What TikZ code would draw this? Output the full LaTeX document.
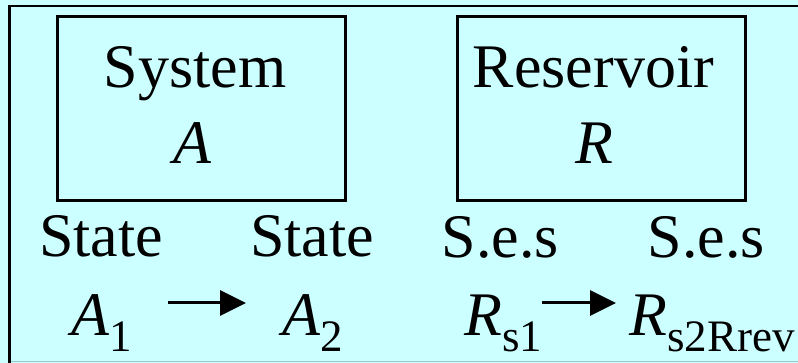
\documentclass[tikz,border=0pt]{standalone}
\usepackage{fontspec}
\setmainfont{Liberation Serif}
\usetikzlibrary{arrows.meta}
\definecolor{bgcyan}{HTML}{CCFFFF}
\definecolor{edgegray}{HTML}{9CC8C8}
\newcommand{\bigf}{\fontsize{62}{70}\selectfont}
\newcommand{\subf}{\fontsize{45}{50}\selectfont}
\newcommand{\lowsub}[1]{\raisebox{-17pt}{\subf #1}}
\begin{document}
\begin{tikzpicture}[x=1pt,y=-1pt,
  txt/.style={anchor=base,inner sep=0pt,font=\bigf},
  lbl/.style={anchor=base west,inner sep=0pt,font=\bigf},
  boxframe/.style={draw=black,line width=3pt},
  arr/.style={line width=3pt,-{Triangle[length=26pt,width=25pt]}}]
\useasboundingbox (0,0) rectangle (798,363);
\fill[bgcyan] (0,0) rectangle (798,363);
% outer frame
\draw[line width=2.5pt] (9.5,363) -- (9.5,6) -- (798,6);
\draw[edgegray,line width=1.5pt] (11,361.5) -- (798,361.5);
% boxes
\node[boxframe,minimum width=287.5pt,minimum height=184pt,inner sep=0pt] (boxA) at (201.25,108.5) {};
\node[boxframe,minimum width=287.5pt,minimum height=184pt,inner sep=0pt] (boxR) at (601.25,108.5) {};
\node[txt] (sys) at (195,88) {System};
\node[txt] (symA) at (192,164) {\itshape A};
\node[txt] (res) at (593.5,88) {Reservoir};
\node[txt] (symR) at (594,164) {\itshape R};
% state labels
\node[txt] (st1) at (101,257) {State};
\node[txt] (st2) at (312,257) {State};
\node[txt] (ses1) at (500.5,258) {S.e.s};
\node[txt] (ses2) at (706.5,258) {S.e.s};
% state symbols
\node[lbl] (A1) at (71,335) {{\itshape A}\lowsub{1}};
\node[lbl] (A2) at (282,335) {{\itshape A}\lowsub{2}};
\node[lbl] (R1) at (464,335) {{\itshape R}\lowsub{s1}};
\node[lbl] (R2) at (629,335) {{\itshape R}\lowsub{s2Rrev}};
\coordinate (arry) at (0,303);
\draw[arr] ([xshift=36pt]A1.east |- arry) -- ([xshift=-36pt]A2.west |- arry);
\draw[arr] (R1.east |- arry) -- ([xshift=-13pt]R2.west |- arry);
\end{tikzpicture}
\end{document}
